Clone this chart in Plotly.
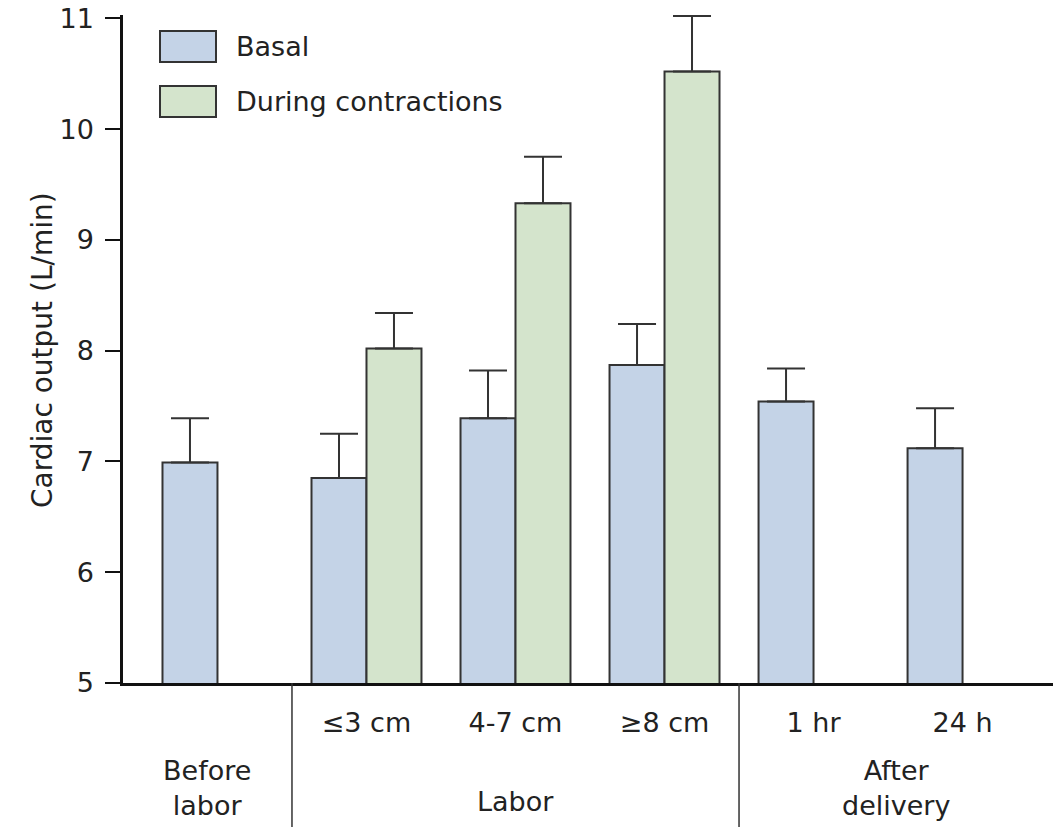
import plotly.graph_objects as go

# ---- data ----
categories = ["Before labor", "≤3 cm", "4-7 cm", "≥8 cm", "1 hr", "24 h"]
basal = [6.99, 6.85, 7.39, 7.87, 7.54, 7.12]
basal_err = [0.40, 0.40, 0.43, 0.37, 0.30, 0.36]
contraction = [None, 8.02, 9.33, 10.52, None, None]
contraction_err = [0, 0.32, 0.42, 0.50, 0, 0]
y_ticks = [5, 6, 7, 8, 9, 10, 11]
tick_labels = ["≤3 cm", "4-7 cm", "≥8 cm", "1 hr", "24 h"]
group_labels = ["Before<br>labor", "Labor", "After<br>delivery"]
series_names = ["Basal", "During contractions"]

BLUE = "#c4d3e7"
GREEN = "#d4e4cc"
EDGE = "#333333"
FONT = "DejaVu Sans"
FS = 27

W, H = 1064, 827
PLOT_L, PLOT_R, PLOT_T, PLOT_B = 123, 1053, 15, 683   # page pixels
ML, MR = PLOT_L, W - PLOT_R
MT, MB = PLOT_T, H - PLOT_B
PW, PH = W - ML - MR, H - MT - MB
XR = [-0.634, 5.607]
YR = [5, 11.03]


def px_x(p):
    return (p - PLOT_L) / PW


def px_y(p):
    return (PLOT_B - p) / PH


fig = go.Figure()
fig.add_trace(go.Bar(
    x=categories, y=basal, name=series_names[0],
    marker=dict(color=BLUE, line=dict(color=EDGE, width=2)),
    error_y=dict(type="data", array=basal_err, arrayminus=[0] * 6,
                 symmetric=False, color=EDGE, thickness=2, width=19),
    cliponaxis=False, showlegend=False,
))
fig.add_trace(go.Bar(
    x=categories, y=contraction, name=series_names[1],
    marker=dict(color=GREEN, line=dict(color=EDGE, width=2)),
    error_y=dict(type="data", array=contraction_err, arrayminus=[0] * 6,
                 symmetric=False, color=EDGE, thickness=2, width=19),
    cliponaxis=False, showlegend=False,
))

shapes = []
# separators below the axis
for xv in [0.5, 3.5]:
    shapes.append(dict(type="line", xref="x", yref="paper", x0=xv, x1=xv,
                       y0=0, y1=-MB / PH, line=dict(color=EDGE, width=1.5)))
# legend boxes
legend_rows = [(31, 62, BLUE), (86, 117, GREEN)]
for (t, b, c) in legend_rows:
    shapes.append(dict(type="rect", xref="paper", yref="paper",
                       x0=px_x(160), x1=px_x(216), y0=px_y(b), y1=px_y(t),
                       fillcolor=c, line=dict(color=EDGE, width=2)))

annotations = []
for name, (t, b, c) in zip(series_names, legend_rows):
    annotations.append(dict(text=name, xref="paper", yref="paper",
                            x=px_x(234), y=px_y((t + b) / 2), xanchor="left",
                            yanchor="middle", showarrow=False,
                            font=dict(family=FONT, size=FS, color="#222")))
# group labels: centred in each section below the axis
group_x = [(XR[0] + 0.5) / 2, 2.0, (3.5 + XR[1]) / 2]
group_y = [788, 802, 788]
for lab, gx, gy in zip(group_labels, group_x, group_y):
    annotations.append(dict(text=lab, xref="x", yref="paper", x=gx,
                            y=px_y(gy), xanchor="center", yanchor="middle",
                            showarrow=False,
                            font=dict(family=FONT, size=FS, color="#222")))
# y axis title
annotations.append(dict(text="Cardiac output (L/min)", xref="paper",
                        yref="paper", x=px_x(42), y=px_y(350),
                        textangle=-90, xanchor="center", yanchor="middle",
                        showarrow=False,
                        font=dict(family=FONT, size=28, color="#222")))

fig.update_layout(
    width=W, height=H,
    margin=dict(l=ML, r=MR, t=MT, b=MB, pad=0, autoexpand=False),
    paper_bgcolor="white", plot_bgcolor="white",
    barmode="group", bargap=0.262, bargroupgap=0,
    showlegend=False,
    shapes=shapes, annotations=annotations,
    font=dict(family=FONT, size=FS, color="#222"),
    xaxis=dict(type="category", categoryorder="array",
               categoryarray=categories, range=XR, automargin=False,
               tickvals=tick_labels, ticktext=tick_labels,
               ticks="", showgrid=False, zeroline=False,
               showline=True, linecolor="#111", linewidth=3,
               ticklabelstandoff=14, ticklabeloverflow="allow",
               tickfont=dict(family=FONT, size=FS, color="#222")),
    yaxis=dict(range=YR, tickvals=y_ticks, automargin=False,
               ticks="outside", ticklen=15, tickwidth=2, tickcolor="#111",
               showgrid=False, zeroline=False,
               showline=True, linecolor="#111", linewidth=2.5,
               ticklabelstandoff=6, ticklabeloverflow="allow",
               tickfont=dict(family=FONT, size=FS, color="#222")),
)

# remove the default page margin so the figure fills the window exactly
fig.write_html("out.html", config={"displayModeBar": False},
               post_script="document.body.style.margin='0';"
                           "document.body.style.overflow='hidden';")
